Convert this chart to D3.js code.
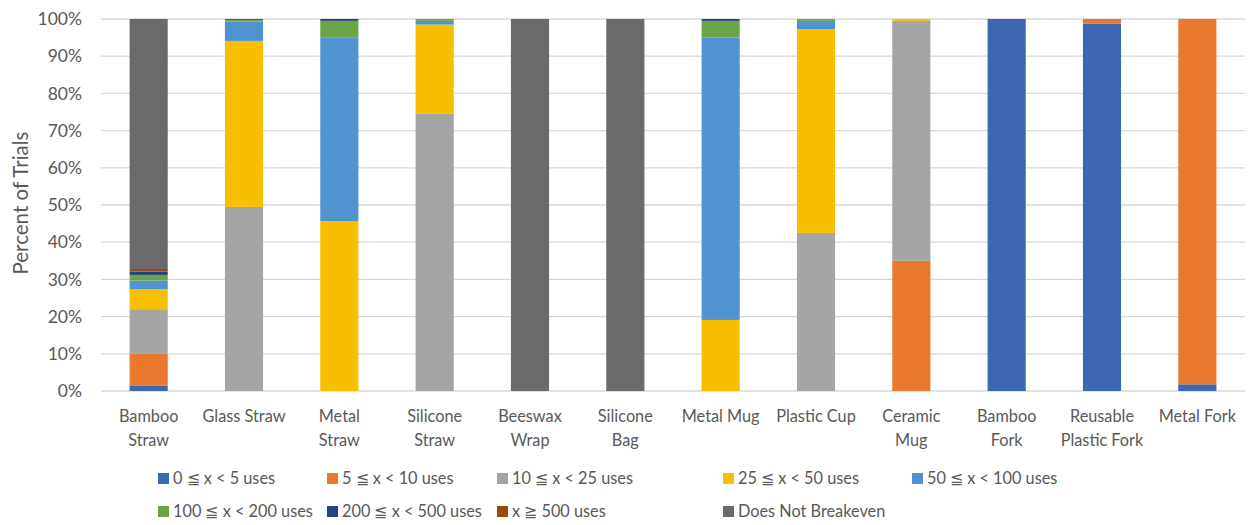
<!DOCTYPE html>
<html><head><meta charset="utf-8">
<script src="https://cdn.jsdelivr.net/npm/d3@7"></script>
<style>
html,body{margin:0;padding:0;background:#fff;}
svg{display:block;font-family:Lato,"Open Sans",sans-serif;}
</style></head>
<body><svg id="c" width="1249" height="525"></svg>
<script>
// ---- data ----
const categories = ["Bamboo Straw","Glass Straw","Metal Straw","Silicone Straw","Beeswax Wrap","Silicone Bag","Metal Mug","Plastic Cup","Ceramic Mug","Bamboo Fork","Reusable Plastic Fork","Metal Fork"];
const categoryLines = [["Bamboo","Straw"],["Glass Straw"],["Metal","Straw"],["Silicone","Straw"],["Beeswax","Wrap"],["Silicone","Bag"],["Metal Mug"],["Plastic Cup"],["Ceramic","Mug"],["Bamboo","Fork"],["Reusable","Plastic Fork"],["Metal Fork"]];
const seriesNames = ["0 \u2266 x < 5 uses","5 \u2266 x < 10 uses","10 \u2266 x < 25 uses","25 \u2266 x < 50 uses","50 \u2266 x < 100 uses","100 \u2266 x < 200 uses","200 \u2266 x < 500 uses","x \u2267 500 uses","Does Not Breakeven"];
const s0to5      = [1.5, 0, 0, 0, 0, 0, 0, 0, 0, 100, 98.8, 1.8];
const s5to10     = [8.6, 0, 0, 0, 0, 0, 0, 0, 35.0, 0, 1.2, 98.2];
const s10to25    = [11.9, 49.5, 0, 74.5, 0, 0, 0, 42.5, 64.5, 0, 0, 0];
const s25to50    = [5.4, 44.6, 45.7, 24.0, 0, 0, 19.1, 54.8, 0.5, 0, 0, 0];
const s50to100   = [2.3, 5.2, 49.4, 1.0, 0, 0, 75.9, 2.2, 0, 0, 0, 0];
const s100to200  = [1.5, 0.4, 4.4, 0.5, 0, 0, 4.5, 0.5, 0, 0, 0, 0];
const s200to500  = [0.9, 0, 0.5, 0, 0, 0, 0.5, 0, 0, 0, 0, 0];
const s500plus   = [0.7, 0.3, 0, 0, 0, 0, 0, 0, 0, 0, 0, 0];
const sNoBreak   = [67.2, 0, 0, 0, 100, 100, 0, 0, 0, 0, 0, 0];
const yTicks = [0,10,20,30,40,50,60,70,80,90,100];

// ---- style / layout ----
const colors = ["#3D67B1","#E9792F","#A5A5A5","#F8BE00","#4F93D1","#6AA447","#25447A","#9E480E","#696A69"];
const seriesValues = [s0to5,s5to10,s10to25,s25to50,s50to100,s100to200,s200to500,s500plus,sNoBreak];
const M = {left:101, right:1245, top:19, bottom:391};
const textColor = "#595959";

const svg = d3.select("#c");
const rows = categories.map((c,i)=>{const r={cat:c}; seriesNames.forEach((s,j)=>r[s]=seriesValues[j][i]); return r;});
const stacked = d3.stack().keys(seriesNames)(rows);

const x = d3.scaleBand().domain(categories).range([M.left,M.right]).paddingInner(0.6).paddingOuter(0.3);
const y = d3.scaleLinear().domain([0,100]).range([M.bottom,M.top]);

// gridlines
svg.append("g").selectAll("line").data(yTicks).join("line")
  .attr("x1",M.left).attr("x2",M.right)
  .attr("y1",d=>y(d)).attr("y2",d=>y(d))
  .attr("stroke","#D9D9D9").attr("stroke-width",1.3);

// y axis labels
const yAxis = d3.axisLeft(y).tickValues(yTicks).tickFormat(d=>d+"%").tickSize(0).tickPadding(0);
const gy = svg.append("g").attr("transform",`translate(${M.left-19},0)`).call(yAxis);
gy.select(".domain").remove();
gy.selectAll("text").attr("fill",textColor).style("font-size","17.5px").style("font-family","Lato");

// bars
svg.append("g").selectAll("g").data(stacked).join("g")
  .attr("fill",(d,i)=>colors[i])
  .selectAll("rect").data(d=>d).join("rect")
  .attr("x",d=>x(d.data.cat)).attr("width",x.bandwidth())
  .attr("y",d=>y(d[1])).attr("height",d=>Math.max(0,y(d[0])-y(d[1])));

// x labels
const gx = svg.append("g");
categories.forEach((c,i)=>{
  const cx = x(c)+x.bandwidth()/2;
  const t = gx.append("text").attr("x",cx).attr("y",422)
    .attr("text-anchor","middle").attr("fill",textColor).style("font-size","16.3px");
  categoryLines[i].forEach((ln,k)=>t.append("tspan").attr("x",cx).attr("dy",k?23.5:0).text(ln));
});

// y title
svg.append("text").attr("transform","translate(28,203) rotate(-90)")
  .attr("text-anchor","middle").attr("fill",textColor).style("font-size","20.5px").text("Percent of Trials");

// legend
const legCols = [158,327,497,723,912];
const legRows = [478.5,511.5];
const lg = svg.append("g");
seriesNames.forEach((s,i)=>{
  const cx = legCols[i%5], cy = legRows[Math.floor(i/5)];
  lg.append("rect").attr("x",cx).attr("y",cy-5.5).attr("width",11).attr("height",11).attr("fill",colors[i]);
  lg.append("text").attr("x",cx+15).attr("y",cy).attr("dy","0.36em")
    .attr("fill",textColor).style("font-size","16.3px").text(s);
});
</script></body></html>
